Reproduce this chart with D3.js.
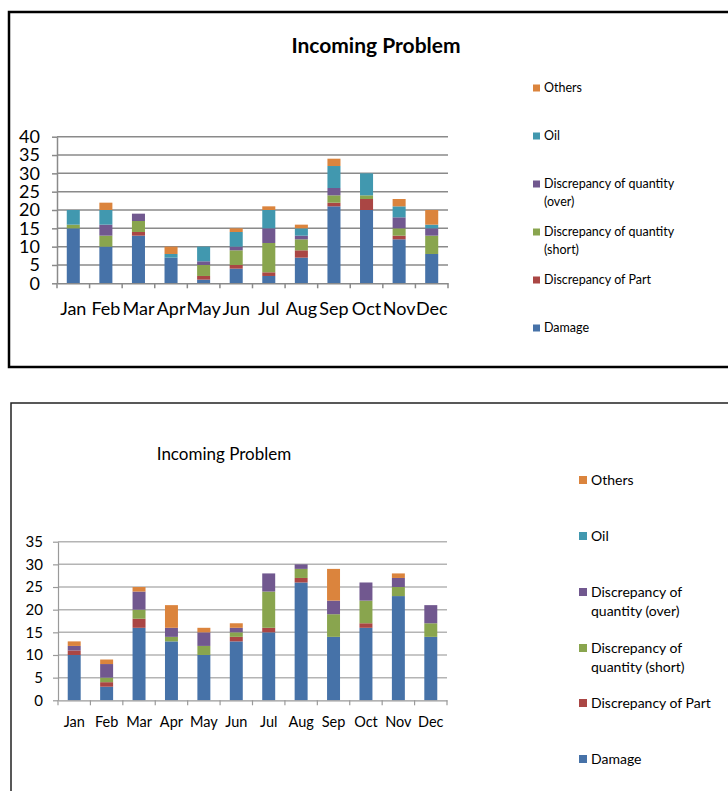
<!DOCTYPE html>
<html><head><meta charset="utf-8">
<script src="https://cdn.jsdelivr.net/npm/d3@7/dist/d3.min.js"></script>
<style>body{margin:0;background:#fff}svg{display:block}</style>
</head><body>
<svg id="c" width="728" height="791"></svg>
<script>
const months = ["Jan","Feb","Mar","Apr","May","Jun","Jul","Aug","Sep","Oct","Nov","Dec"];
const seriesNames = ["Damage","Discrepancy of Part","Discrepancy of quantity (short)","Discrepancy of quantity (over)","Oil","Others"];
const seriesColors = ["#4672A8","#AA4644","#89A54E","#71588F","#4198AF","#DB843D"];

// Chart 1 values
const damage1 = [15,10,13,7,1,4,2,7,21,20,12,8];
const part1   = [0,0,1,0,1,1,1,2,1,3,1,0];
const short1  = [1,3,3,0,3,4,8,3,2,1,2,5];
const over1   = [0,3,2,0,1,1,4,1,2,0,3,2];
const oil1    = [4,4,0,1,4,4,5,2,6,6,3,1];
const others1 = [0,2,0,2,0,1,1,1,2,0,2,4];
const ticks1  = [0,5,10,15,20,25,30,35,40];

// Chart 2 values
const damage2 = [10,3,16,13,10,13,15,26,14,16,23,14];
const part2   = [1,1,2,0,0,1,1,1,0,1,0,0];
const short2  = [0,1,2,1,2,1,8,2,5,5,2,3];
const over2   = [1,3,4,2,3,1,4,1,3,4,2,4];
const oil2    = [0,0,0,0,0,0,0,0,0,0,0,0];
const others2 = [1,1,1,5,1,1,0,0,7,0,1,0];
const ticks2  = [0,5,10,15,20,25,30,35];

// legend text, indexed like seriesNames (wrapped lines)
const legend1Lines = [["Damage"],["Discrepancy of Part"],["Discrepancy of quantity","(short)"],["Discrepancy of quantity","(over)"],["Oil"],["Others"]];
const legend2Lines = [["Damage"],["Discrepancy of Part"],["Discrepancy of","quantity (short)"],["Discrepancy of","quantity (over)"],["Oil"],["Others"]];
const legendOrder = [5,4,3,2,1,0];

const svg = d3.select("#c");
const FONT = "Lato, 'Open Sans', sans-serif";

function draw(cfg){
  const g = svg.append("g");
  g.append("rect").attr("x",cfg.frame[0]).attr("y",cfg.frame[1]).attr("width",cfg.frame[2]).attr("height",cfg.frame[3])
    .attr("fill","#fff").attr("stroke",cfg.frameColor).attr("stroke-width",cfg.frameW);
  g.append("text").attr("x",cfg.titleX).attr("y",cfg.titleY).attr("text-anchor","middle")
    .attr("font-family",FONT).attr("font-size",cfg.titleSize).attr("font-weight",cfg.titleWeight)
    .attr("fill","#000").text("Incoming Problem");

  const rows = months.map((m,i)=>{
    const r = {month:m};
    seriesNames.forEach((s,j)=>{ r[s] = cfg.values[j][i]; });
    return r;
  });
  const x = d3.scaleBand().domain(months).range([cfg.left,cfg.right]).padding(0);
  const y = d3.scaleLinear().domain([0,d3.max(cfg.ticks)]).range([cfg.bottom,cfg.top]);

  g.append("g").selectAll("line").data(cfg.ticks.slice(1)).join("line")
    .attr("x1",cfg.left).attr("x2",cfg.right).attr("y1",d=>y(d)).attr("y2",d=>y(d))
    .attr("stroke",cfg.gridColor).attr("stroke-width",cfg.gridW);

  const stacked = d3.stack().keys(seriesNames)(rows);
  const bw = x.step()*0.4;
  stacked.forEach((layer,j)=>{
    g.append("g").selectAll("rect").data(layer).join("rect")
      .attr("x",d=>x(d.data.month)+x.step()/2-bw/2)
      .attr("width",bw)
      .attr("y",d=>y(d[1]))
      .attr("height",d=>Math.max(0,y(d[0])-y(d[1])))
      .attr("fill",seriesColors[j]);
  });

  const ya = g.append("g").attr("transform",`translate(${cfg.left},0)`)
    .call(d3.axisLeft(y).tickValues(cfg.ticks).tickSize(cfg.tickLen).tickPadding(cfg.yPad).tickSizeOuter(0));
  ya.select(".domain").attr("stroke",cfg.axisColor).attr("stroke-width",cfg.axisW);
  ya.selectAll(".tick line").attr("stroke",cfg.axisColor).attr("stroke-width",cfg.axisW);
  ya.selectAll("text").attr("font-family",FONT).attr("font-size",cfg.yFont).attr("fill","#000");

  const xa = g.append("g").attr("transform",`translate(0,${cfg.bottom})`)
    .call(d3.axisBottom(x).tickSize(0).tickPadding(cfg.xPad).tickSizeOuter(0));
  xa.select(".domain").attr("stroke",cfg.axisColor).attr("stroke-width",cfg.axisW);
  xa.selectAll("text").attr("font-family",FONT).attr("font-size",cfg.xFont).attr("fill","#000");
  const bounds = months.map(m=>x(m)).concat([x(months[months.length-1])+x.step()]);
  g.append("g").selectAll("line").data(bounds).join("line")
    .attr("x1",d=>d).attr("x2",d=>d).attr("y1",cfg.bottom).attr("y2",cfg.bottom+cfg.tickLen)
    .attr("stroke",cfg.axisColor).attr("stroke-width",cfg.axisW);

  const lg = g.append("g");
  legendOrder.forEach((si,k)=>{
    const ly = cfg.legendY[k];
    lg.append("rect").attr("x",cfg.legendX).attr("y",ly-cfg.sw/2).attr("width",cfg.sw).attr("height",cfg.sw)
      .attr("fill",seriesColors[si]);
    cfg.legendLines[si].forEach((t,li)=>{
      lg.append("text").attr("x",cfg.legendX+cfg.sw+4).attr("y",ly+li*cfg.lineH).attr("dy","0.35em")
        .attr("font-family",FONT).attr("font-size",cfg.legendFont).attr("fill","#000").text(t);
    });
  });
}

draw({
  frame:[9,12,740,355], frameColor:"#000", frameW:2.5,
  titleX:376, titleY:53, titleSize:21, titleWeight:"bold",
  values:[damage1,part1,short1,over1,oil1,others1], ticks:ticks1,
  left:57, right:448, top:136.7, bottom:283.3,
  gridColor:"#8a8a8a", gridW:1.5, axisColor:"#8a8a8a", axisW:1.5,
  tickLen:5, yPad:12, yFont:18, xPad:19, xFont:18,
  legendX:533, legendY:[88,136,184,232,280,328], legendLines:legend1Lines,
  sw:7, lineH:18, legendFont:12.5
});

draw({
  frame:[11,403,740,420], frameColor:"#222", frameW:1.5,
  titleX:224, titleY:460, titleSize:17, titleWeight:"normal",
  values:[damage2,part2,short2,over2,oil2,others2], ticks:ticks2,
  left:58, right:447, top:541.7, bottom:700.3,
  gridColor:"#b4b4b4", gridW:1.5, axisColor:"#9a9a9a", axisW:1.2,
  tickLen:5, yPad:10, yFont:15, xPad:16, xFont:14.5,
  legendX:579, legendY:[480,536,592,648,703,759], legendLines:legend2Lines,
  sw:8, lineH:19, legendFont:14
});
</script>
</body></html>
